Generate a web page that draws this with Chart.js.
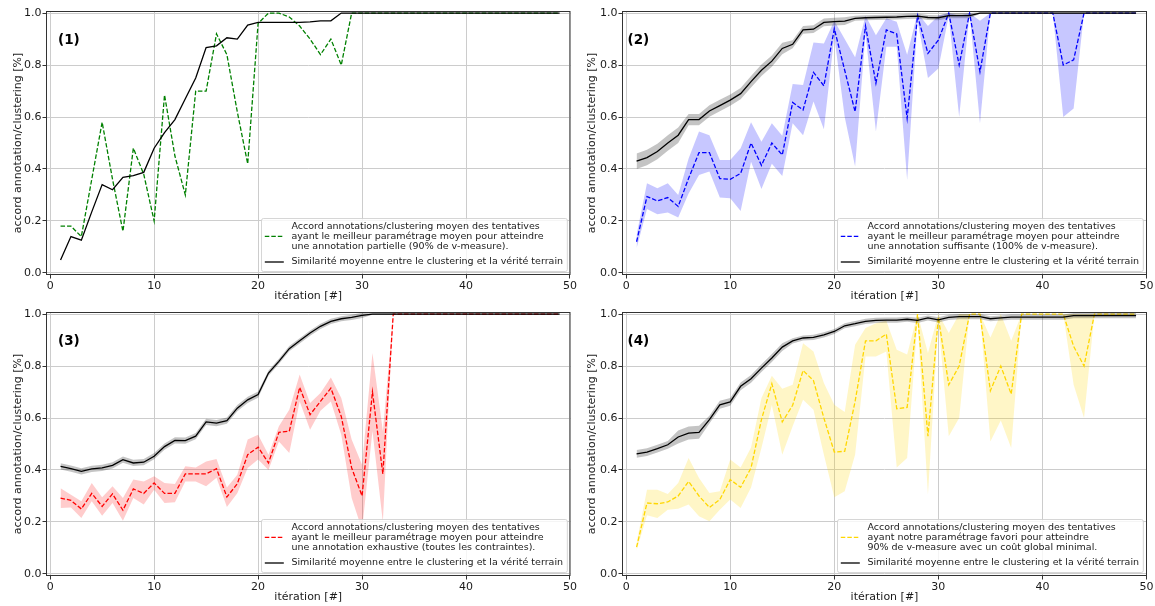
<!DOCTYPE html>
<html><head><meta charset="utf-8">
<script src="https://cdn.jsdelivr.net/npm/chart.js@4.4.1/dist/chart.umd.min.js"></script>
<style>
html,body{margin:0;padding:0;background:#fff;}
#wrap{position:relative;width:1155px;height:606px;overflow:hidden;background:#fff;}
canvas{position:absolute;}
</style></head><body>
<div id="wrap">
<canvas id="c1" width="578" height="303" style="left:0px;top:0px;width:578px;height:303px"></canvas>
<canvas id="c2" width="577" height="303" style="left:578px;top:0px;width:577px;height:303px"></canvas>
<canvas id="c3" width="578" height="303" style="left:0px;top:301px;width:578px;height:303px"></canvas>
<canvas id="c4" width="577" height="303" style="left:578px;top:301px;width:577px;height:303px"></canvas>
</div>
<script>
const iterations = [1,2,3,4,5,6,7,8,9,10,11,12,13,14,15,16,17,18,19,20,21,22,23,24,25,26,27,28,29,30,31,32,33,34,35,36,37,38,39,40,41,42,43,44,45,46,47,48,49];
const xTickValues = [0,10,20,30,40,50];
const yTickValues = [0,0.2,0.4,0.6,0.8,1.0];
const yTickLabels = ['0.0','0.2','0.4','0.6','0.8','1.0'];
const xAxisTitle = 'itération [#]';
const yAxisTitle = 'accord annotation/clustering [%]';
const similarityLabel = 'Similarité moyenne entre le clustering et la vérité terrain';
const panelLabels = ['(1)','(2)','(3)','(4)'];
const legendText1 = ['Accord annotations/clustering moyen des tentatives','ayant le meilleur paramétrage moyen pour atteindre','une annotation partielle (90% de v-measure).'];
const legendText2 = ['Accord annotations/clustering moyen des tentatives','ayant le meilleur paramétrage moyen pour atteindre','une annotation suffisante (100% de v-measure).'];
const legendText3 = ['Accord annotations/clustering moyen des tentatives','ayant le meilleur paramétrage moyen pour atteindre','une annotation exhaustive (toutes les contraintes).'];
const legendText4 = ['Accord annotations/clustering moyen des tentatives','ayant notre paramétrage favori pour atteindre','90% de v-measure avec un coût global minimal.'];

// Panel 1
const p1Green = [0.18,0.18,0.14,0.36,0.58,0.36,0.16,0.48,0.38,0.20,
 0.685,0.45,0.30,0.70,0.70,0.92,0.84,0.62,0.42,0.96,
 1.0,1.0,0.985,0.95,0.90,0.84,0.90,0.80,1.0,1.0,
 1.0,1.0,1.0,1.0,1.0,1.0,1.0,1.0,1.0,1.0,
 1.0,1.0,1.0,1.0,1.0,1.0,1.0,1.0,1.0];
const p1Black = [0.05,0.14,0.126,0.235,0.34,0.32,0.368,0.374,0.387,0.48,
 0.54,0.59,0.67,0.75,0.867,0.874,0.905,0.90,0.954,0.964,
 0.964,0.964,0.964,0.964,0.966,0.97,0.97,1.0,1.0,1.0,
 1.0,1.0,1.0,1.0,1.0,1.0,1.0,1.0,1.0,1.0,
 1.0,1.0,1.0,1.0,1.0,1.0,1.0,1.0,1.0];

// Panel 2
const p2Blue = [0.12,0.294,0.277,0.29,0.256,0.364,0.463,0.463,0.363,0.36,
 0.383,0.50,0.414,0.50,0.454,0.656,0.627,0.772,0.72,0.94,
 0.78,0.62,0.95,0.73,0.935,0.92,0.595,0.99,0.845,0.896,
 1.0,0.80,1.0,0.774,1.0,1.0,1.0,1.0,1.0,1.0,
 1.0,0.80,0.82,1.0,1.0,1.0,1.0,1.0,1.0];
const p2BlueLow = [0.095,0.246,0.226,0.233,0.213,0.306,0.377,0.39,0.29,0.287,
 0.238,0.428,0.323,0.42,0.373,0.576,0.53,0.66,0.553,0.91,
 0.60,0.41,0.92,0.544,0.87,0.87,0.358,0.97,0.75,0.787,
 0.99,0.60,1.0,0.575,1.0,1.0,1.0,1.0,1.0,1.0,
 1.0,0.60,0.633,1.0,1.0,1.0,1.0,1.0,1.0];
const p2BlueHigh = [0.146,0.345,0.326,0.345,0.30,0.44,0.544,0.53,0.435,0.435,
 0.48,0.58,0.505,0.576,0.528,0.727,0.723,0.887,0.883,0.97,
 0.90,0.83,0.99,0.915,0.98,0.967,0.84,1.0,0.95,0.99,
 1.0,0.99,1.0,0.97,1.0,1.0,1.0,1.0,1.0,1.0,
 1.0,1.0,1.0,1.0,1.0,1.0,1.0,1.0,1.0];
const p2Black = [0.43,0.444,0.467,0.50,0.53,0.59,0.59,0.623,0.644,0.665,
 0.69,0.736,0.78,0.815,0.864,0.88,0.935,0.938,0.964,0.967,
 0.969,0.98,0.982,0.983,0.984,0.985,0.987,0.988,0.983,0.982,
 0.99,0.99,0.99,1.0,1.0,1.0,1.0,1.0,1.0,1.0,
 1.0,1.0,1.0,1.0,1.0,1.0,1.0,1.0,1.0];
const p2BlackSpread = [0.03,0.03,0.03,0.03,0.03,0.022,0.022,0.022,0.022,0.022,
 0.022,0.022,0.022,0.022,0.022,0.015,0.015,0.015,0.015,0.015,
 0.015,0.01,0.01,0.01,0.01,0.01,0.01,0.01,0.01,0.01,
 0.01,0.01,0.01,0.003,0.003,0.003,0.003,0.003,0.003,0.003,
 0.003,0.003,0.003,0.003,0.003,0.003,0.003,0.003,0.003];

// Panel 3
const p3Red = [0.292,0.283,0.25,0.31,0.26,0.308,0.245,0.327,0.31,0.35,
 0.31,0.31,0.385,0.385,0.385,0.405,0.296,0.347,0.459,0.488,
 0.427,0.545,0.549,0.718,0.613,0.664,0.715,0.606,0.408,0.30,
 0.70,0.385,1.0,1.0,1.0,1.0,1.0,1.0,1.0,1.0,
 1.0,1.0,1.0,1.0,1.0,1.0,1.0,1.0,1.0];
const p3RedLow = [0.254,0.256,0.215,0.28,0.224,0.273,0.205,0.292,0.267,0.324,
 0.273,0.276,0.356,0.356,0.337,0.37,0.258,0.31,0.408,0.44,
 0.40,0.51,0.465,0.664,0.555,0.628,0.664,0.536,0.292,0.17,
 0.55,0.20,1.0,1.0,1.0,1.0,1.0,1.0,1.0,1.0,
 1.0,1.0,1.0,1.0,1.0,1.0,1.0,1.0,1.0];
const p3RedHigh = [0.33,0.305,0.28,0.35,0.295,0.337,0.292,0.363,0.356,0.376,
 0.35,0.346,0.414,0.41,0.433,0.442,0.333,0.382,0.517,0.536,
 0.459,0.568,0.632,0.767,0.658,0.696,0.756,0.677,0.517,0.42,
 0.85,0.55,1.0,1.0,1.0,1.0,1.0,1.0,1.0,1.0,
 1.0,1.0,1.0,1.0,1.0,1.0,1.0,1.0,1.0];
const p3Black = [0.414,0.405,0.395,0.404,0.408,0.418,0.44,0.427,0.43,0.453,
 0.49,0.514,0.513,0.53,0.585,0.58,0.59,0.638,0.67,0.69,
 0.773,0.818,0.867,0.897,0.927,0.953,0.972,0.982,0.987,0.995,
 1.0,1.0,1.0,1.0,1.0,1.0,1.0,1.0,1.0,1.0,
 1.0,1.0,1.0,1.0,1.0,1.0,1.0,1.0,1.0];
const p3BlackSpread = [0.012,0.012,0.012,0.012,0.012,0.012,0.012,0.012,0.012,0.012,
 0.012,0.012,0.012,0.012,0.012,0.012,0.012,0.012,0.012,0.012,
 0.01,0.01,0.01,0.01,0.01,0.01,0.01,0.01,0.01,0.01,
 0.003,0.003,0.003,0.003,0.003,0.003,0.003,0.003,0.003,0.003,
 0.003,0.003,0.003,0.003,0.003,0.003,0.003,0.003,0.003];

// Panel 4
const p4Gold = [0.103,0.273,0.27,0.277,0.30,0.356,0.30,0.256,0.286,0.363,
 0.333,0.408,0.594,0.732,0.585,0.649,0.783,0.744,0.60,0.469,
 0.472,0.664,0.897,0.897,0.923,0.636,0.641,1.0,0.53,0.987,
 0.728,0.80,1.0,1.0,0.705,0.80,0.692,1.0,1.0,1.0,
 1.0,1.0,0.876,0.80,1.0,1.0,1.0,1.0,1.0];
const p4GoldLow = [0.09,0.226,0.215,0.247,0.251,0.267,0.222,0.203,0.247,0.286,
 0.254,0.333,0.485,0.65,0.459,0.568,0.67,0.632,0.459,0.295,
 0.318,0.459,0.837,0.837,0.856,0.41,0.446,0.97,0.305,0.97,
 0.53,0.60,1.0,1.0,0.51,0.59,0.485,1.0,1.0,1.0,
 1.0,1.0,0.728,0.60,1.0,1.0,1.0,1.0,1.0];
const p4GoldHigh = [0.12,0.324,0.324,0.308,0.35,0.446,0.369,0.311,0.318,0.44,
 0.41,0.487,0.677,0.763,0.713,0.728,0.888,0.856,0.735,0.651,
 0.623,0.882,0.946,0.965,0.974,0.863,0.844,1.0,0.85,1.0,
 0.927,1.0,1.0,1.0,0.91,1.0,0.897,1.0,1.0,1.0,
 1.0,1.0,1.0,1.0,1.0,1.0,1.0,1.0,1.0];
const p4Black = [0.462,0.469,0.482,0.497,0.527,0.542,0.545,0.594,0.651,0.662,
 0.722,0.751,0.792,0.831,0.873,0.897,0.908,0.91,0.92,0.933,
 0.955,0.963,0.972,0.976,0.977,0.977,0.98,0.976,0.985,0.978,
 0.987,0.99,0.99,0.99,0.982,0.985,0.988,0.988,0.988,0.988,
 0.988,0.988,0.994,0.994,0.994,0.994,0.994,0.994,0.994];
const p4BlackSpread = [0.015,0.015,0.015,0.015,0.025,0.025,0.025,0.015,0.015,0.015,
 0.015,0.015,0.015,0.015,0.015,0.01,0.01,0.01,0.01,0.01,
 0.01,0.01,0.01,0.01,0.01,0.01,0.01,0.01,0.01,0.01,
 0.01,0.01,0.01,0.01,0.01,0.01,0.01,0.01,0.01,0.01,
 0.01,0.01,0.01,0.01,0.01,0.01,0.01,0.01,0.01];

const FONT = '"DejaVu Sans", sans-serif';
const TXT = '#1a1a1a';

function pts(ys){ return ys.map((y,i)=>({x: iterations[i], y: y})); }

const decorPlugin = {
  id: 'decor',
  afterDatasetsDraw(chart, args, o) {
    const ctx = chart.ctx, a = chart.chartArea;
    ctx.save();
    // frame
    ctx.strokeStyle = '#333'; ctx.lineWidth = 1; ctx.setLineDash([]);
    ctx.strokeRect(a.left+0.5, a.top+0.5, a.right-a.left-1, a.bottom-a.top-1);
    // panel label
    ctx.fillStyle = '#000';
    ctx.font = 'bold 13.5px ' + FONT;
    ctx.textBaseline = 'middle'; ctx.textAlign = 'left';
    ctx.fillText(o.label, o.labelX, a.top + 29);
    // legend
    const fs = 9.5;
    ctx.font = fs + 'px ' + FONT;
    const all = o.lines.concat([similarityLabel]);
    let tw = 0; all.forEach(t => { tw = Math.max(tw, ctx.measureText(t).width); });
    const w = 30.4 + tw + 3.8, h = 53;
    const bx = Math.round(a.right - 4 - w), by = Math.round(a.bottom - 4 - h);
    ctx.beginPath();
    if (ctx.roundRect) ctx.roundRect(bx+0.5, by+0.5, w, h, 2); else ctx.rect(bx+0.5, by+0.5, w, h);
    ctx.fillStyle = 'rgba(255,255,255,0.8)'; ctx.fill();
    ctx.strokeStyle = 'rgba(204,204,204,0.8)'; ctx.lineWidth = 1; ctx.stroke();
    ctx.fillStyle = TXT; ctx.textBaseline = 'middle';
    o.lines.forEach((t,i) => ctx.fillText(t, bx + 30.4, by + 8.5 + i*9.8));
    ctx.fillText(similarityLabel, bx + 30.4, by + 44);
    ctx.lineWidth = 1.3;
    ctx.strokeStyle = o.color; ctx.setLineDash([4.5,2]);
    ctx.beginPath(); ctx.moveTo(bx + 3.8, by + 18.3); ctx.lineTo(bx + 22.8, by + 18.3); ctx.stroke();
    ctx.strokeStyle = '#000'; ctx.setLineDash([]);
    ctx.beginPath(); ctx.moveTo(bx + 3.8, by + 44); ctx.lineTo(bx + 22.8, by + 44); ctx.stroke();
    ctx.restore();
  }
};

function makePanel(id, p) {
  const datasets = [];
  datasets.push({data: pts(p.black), borderColor:'#000', borderWidth:1.3, pointRadius:0, tension:0, fill:false, order:0});
  if (p.blackSpread) {
    const i0 = datasets.length;
    datasets.push({data: pts(p.black.map((v,i)=>v+p.blackSpread[i])), borderColor:'rgba(0,0,0,0)', borderWidth:0, pointRadius:0, tension:0, fill:{target:i0+1}, backgroundColor:'rgba(0,0,0,0.23)', order:1});
    datasets.push({data: pts(p.black.map((v,i)=>v-p.blackSpread[i])), borderColor:'rgba(0,0,0,0)', borderWidth:0, pointRadius:0, tension:0, fill:false, order:1});
  }
  datasets.push({data: pts(p.mean), borderColor:p.color, borderWidth:1.3, borderDash:[4.5,2], pointRadius:0, tension:0, fill:false, order:2});
  if (p.high) {
    const i1 = datasets.length;
    datasets.push({data: pts(p.high), borderColor:'rgba(0,0,0,0)', borderWidth:0, pointRadius:0, tension:0, fill:{target:i1+1}, backgroundColor:p.band, order:3});
    datasets.push({data: pts(p.low), borderColor:'rgba(0,0,0,0)', borderWidth:0, pointRadius:0, tension:0, fill:false, order:3});
  }
  const tickFont = {family: FONT, size: 11};
  new Chart(document.getElementById(id), {
    type: 'line',
    data: {datasets},
    plugins: [decorPlugin],
    options: {
      responsive: false, animation: false, events: [],
      layout: {padding: {left: 0, top: 11, right: p.padRight, bottom: 0}},
      plugins: {
        legend: {display:false}, tooltip: {enabled:false},
        decor: {label: p.label, labelX: p.labelX, lines: p.lines, color: p.color}
      },
      scales: {
        x: {
          type: 'linear', min: -0.4, max: 50.05,
          afterBuildTicks: s => { s.ticks = xTickValues.map(v => ({value: v})); },
          afterFit: s => { s.height = 28; },
          grid: {color:'#cccccc', lineWidth:1, tickLength:3.5, tickColor:'#333'},
          border: {display:false},
          ticks: {font: tickFont, color: TXT, padding: 1, maxRotation: 0, autoSkip: false},
          title: {display:true, text: xAxisTitle, font: {family: FONT, size: 11}, color: TXT, padding: {top:0, bottom:0}}
        },
        y: {
          type: 'linear', min: -0.008, max: 1.008,
          afterBuildTicks: s => { s.ticks = yTickValues.map(v => ({value: v})); },
          afterFit: s => { s.width = p.axisW; },
          grid: {color:'#cccccc', lineWidth:1, tickLength:3.5, tickColor:'#333'},
          border: {display:false},
          ticks: {font: tickFont, color: TXT, padding: 1, callback: (v, i) => yTickLabels[i]},
          title: {display:true, text: yAxisTitle, font: {family: FONT, size: 11}, color: TXT, padding: {top: p.titlePad, bottom: 0}}
        }
      }
    }
  });
}

makePanel('c1', {black: p1Black, mean: p1Green, color: '#008000', label: panelLabels[0], labelX: 58, lines: legendText1, axisW: 46, padRight: 7, titlePad: 11.4});
makePanel('c2', {black: p2Black, blackSpread: p2BlackSpread, mean: p2Blue, high: p2BlueHigh, low: p2BlueLow, color: '#0000ff', band: 'rgba(0,0,255,0.22)', label: panelLabels[1], labelX: 49.5, lines: legendText2, axisW: 44, padRight: 8, titlePad: 7.4});
makePanel('c3', {black: p3Black, blackSpread: p3BlackSpread, mean: p3Red, high: p3RedHigh, low: p3RedLow, color: '#ff0000', band: 'rgba(255,0,0,0.2)', label: panelLabels[2], labelX: 58, lines: legendText3, axisW: 46, padRight: 7, titlePad: 11.4});
makePanel('c4', {black: p4Black, blackSpread: p4BlackSpread, mean: p4Gold, high: p4GoldHigh, low: p4GoldLow, color: '#ffd700', band: 'rgba(255,215,0,0.22)', label: panelLabels[3], labelX: 49.5, lines: legendText4, axisW: 44, padRight: 8, titlePad: 7.4});
</script>
</body></html>
